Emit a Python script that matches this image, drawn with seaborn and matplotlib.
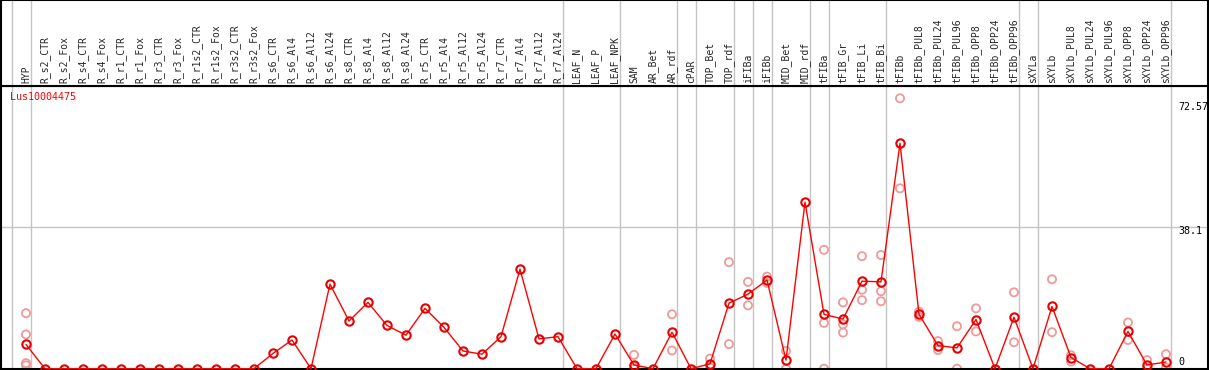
import numpy as np
import pandas as pd
import matplotlib
matplotlib.use("Agg")
import matplotlib.pyplot as plt
import seaborn as sns

gene = "Lus10004475"

samples = [
    "HYP", "R_s2_CTR", "R_s2_Fox", "R_s4_CTR", "R_s4_Fox", "R_r1_CTR", "R_r1_Fox",
    "R_r3_CTR", "R_r3_Fox", "R_r1s2_CTR", "R_r1s2_Fox", "R_r3s2_CTR", "R_r3s2_Fox",
    "R_s6_CTR", "R_s6_Al4", "R_s6_Al12", "R_s6_Al24", "R_s8_CTR", "R_s8_Al4",
    "R_s8_Al12", "R_s8_Al24", "R_r5_CTR", "R_r5_Al4", "R_r5_Al12", "R_r5_Al24",
    "R_r7_CTR", "R_r7_Al4", "R_r7_Al12", "R_r7_Al24", "LEAF_N", "LEAF_P", "LEAF_NPK",
    "SAM", "AR_Bet", "AR_rdf", "cPAR", "TOP_Bet", "TOP_rdf", "iFIBa", "iFIBb",
    "MID_Bet", "MID_rdf", "tFIBa", "tFIB_Gr", "tFIB_Li", "tFIB_Bi", "tFIBb",
    "tFIBb_PUL8", "tFIBb_PUL24", "tFIBb_PUL96", "tFIBb_OPP8", "tFIBb_OPP24",
    "tFIBb_OPP96", "sXYLa", "sXYLb", "sXYLb_PUL8", "sXYLb_PUL24", "sXYLb_PUL96",
    "sXYLb_OPP8", "sXYLb_OPP24", "sXYLb_OPP96",
]

means = [
    6.5, 0, 0, 0, 0, 0, 0, 0, 0, 0, 0, 0, 0,
    4.1, 7.7, 0, 22.7, 12.8, 17.8, 11.6, 9.0, 16.2, 11.1, 4.75, 3.9,
    8.6, 26.7, 8.0, 8.6, 0, 0, 9.3,
    1.0, 0, 9.8, 0, 1.3, 17.6, 20.0, 23.8,
    2.3, 44.7, 14.6, 13.3, 23.5, 23.3, 60.5,
    14.6, 6.2, 5.6, 13.2, 0,
    13.8, 0, 16.7, 3.0, 0, 0,
    10.0, 1.0, 1.8,
]

# individual replicates (empty where none are drawn)
replicates = {
    "HYP": [14.9, 9.2, 1.5, 0.9],
    "SAM": [3.7, 0.6, 0.0],
    "AR_rdf": [14.6, 4.9],
    "TOP_Bet": [2.7, 0.3],
    "TOP_rdf": [28.6, 6.6],
    "iFIBa": [23.3, 17.0],
    "iFIBb": [24.7, 23.0],
    "MID_Bet": [4.75, 0.0],
    "tFIBa": [31.9, 12.3, 0.0],
    "tFIB_Gr": [17.8, 11.9, 9.7],
    "tFIB_Li": [30.2, 21.2, 18.4],
    "tFIB_Bi": [30.5, 20.8, 18.1],
    "tFIBb": [72.57, 48.4],
    "tFIBb_PUL8": [15.3, 13.9],
    "tFIBb_PUL24": [7.4, 5.0],
    "tFIBb_PUL96": [11.4, 0.0],
    "tFIBb_OPP8": [16.2, 10.0],
    "tFIBb_OPP96": [20.5, 7.1],
    "sXYLb": [24.0, 9.8],
    "sXYLb_PUL8": [3.6, 1.9],
    "sXYLb_OPP8": [12.4, 7.7],
    "sXYLb_OPP24": [2.3, 0.0],
    "sXYLb_OPP96": [3.9, 0.3],
}

# last sample of each group (vertical separators); -1 = left edge
group_ends = ["HYP", "R_r7_Al24", "LEAF_NPK", "AR_rdf", "cPAR", "TOP_rdf", "iFIBa",
              "iFIBb", "MID_rdf", "tFIBa", "tFIB_Bi", "tFIBb_OPP96", "sXYLa", "sXYLb_OPP96"]

y_labels = [0, 38.1, 72.57]

sns.set_style("white")
plt.rcParams["font.family"] = ["DejaVu Sans Mono"]

W, H = 1209, 370
fig = plt.figure(figsize=(W / 100, H / 100), dpi=100)

# pixel layout
x0, x1 = 1, 1208
head_bottom = 86
plot_bottom = 369
xlim = ((x0 - 26) / 19, (x1 - 26) / 19)

ax = fig.add_axes([x0 / W, (H - plot_bottom) / H, (x1 - x0) / W, (plot_bottom - head_bottom) / H])
hx = fig.add_axes([x0 / W, (H - head_bottom) / H, (x1 - x0) / W, head_bottom / H])

pos = np.arange(len(samples))
df = pd.DataFrame({"pos": pos, "sample": samples, "value": means})
rep_rows = [(samples.index(s), v) for s, vals in replicates.items() for v in vals]
rep_df = pd.DataFrame(rep_rows, columns=["pos", "value"])

grid_col = "#c4c4c4"
sep = [-1] + [samples.index(s) for s in group_ends]
for a in (ax, hx):
    for p in sep:
        a.axvline(p + 0.24, color=grid_col, lw=1, zorder=0)
ax.axhline(38.1, color=grid_col, lw=1, zorder=0)

sns.scatterplot(data=rep_df, x="pos", y="value", ax=ax, marker="o", s=34,
                facecolors="none", edgecolor="#ef9a9a", linewidth=1.3, zorder=2)
sns.lineplot(data=df, x="pos", y="value", ax=ax, color="#ff0000", lw=1,
             marker="o", markersize=6, markerfacecolor="none",
             markeredgecolor="#e60000", markeredgewidth=1.5, zorder=3)

ax.set_xlim(*xlim)
ax.set_ylim(-0.08, 75.87)
ax.set_xticks([])
ax.set_yticks([])
ax.set_xlabel("")
ax.set_ylabel("")

ax.text((10 - x0) / (x1 - x0), 1 - (97 - head_bottom) / (plot_bottom - head_bottom), gene,
        transform=ax.transAxes, color="#ff0000", fontsize=7.2, va="center", ha="left")

label_x = (1178 - 26) / 19
label_y = {0: 1.8, 38.1: 36.9, 72.57: 70.2}
for v in y_labels:
    ax.text(label_x, label_y[v], f"{v}", fontsize=7.2, va="center", ha="left", color="black")

hx.set_xlim(*xlim)
hx.set_ylim(0, 1)
hx.set_xticks([])
hx.set_yticks([])
for p, s in zip(pos, samples):
    hx.text(p, 0.03, s, rotation=90, ha="center", va="bottom", fontsize=7.0)

for a in (ax, hx):
    for sp in a.spines.values():
        sp.set_color("black")
        sp.set_linewidth(1.5)

fig.savefig("out.png", dpi=100)
